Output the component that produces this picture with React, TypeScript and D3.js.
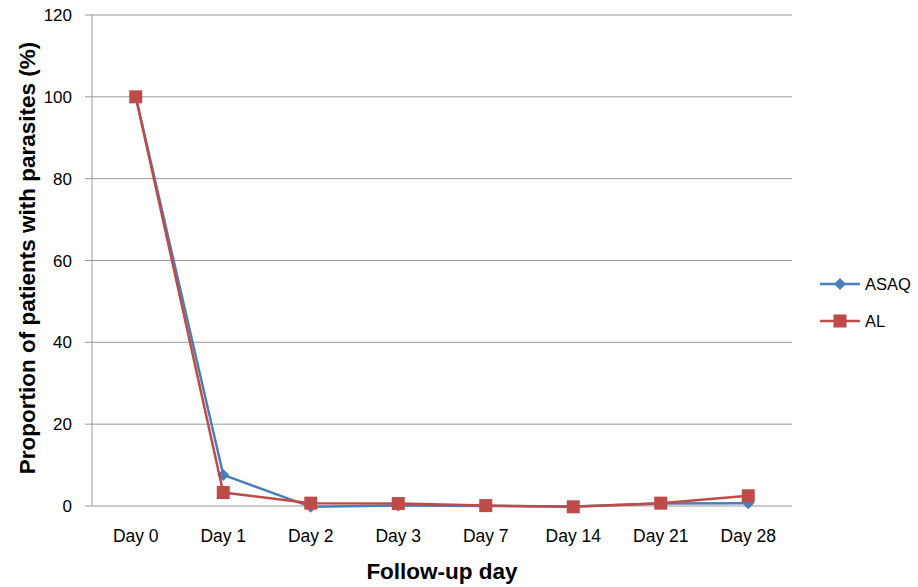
import React from 'react';
import * as d3 from 'd3';

const days = ['Day 0', 'Day 1', 'Day 2', 'Day 3', 'Day 7', 'Day 14', 'Day 21', 'Day 28'];
const asaq = [100, 7.6, -0.2, 0.1, 0, -0.1, 0.6, 0.7];
const al = [100, 3.3, 0.7, 0.6, 0.1, -0.2, 0.7, 2.5];
const yTicks = [0, 20, 40, 60, 80, 100, 120];

const W = 918, H = 587;
const left = 92, right = 792, top = 15, bottom = 506;
const font = 'Liberation Sans, Arial, sans-serif';
const blue = '#4A7EBB';
const red = '#BE4B48';

const App = () => {
  const x = d3.scaleBand().domain(days).range([left, right]);
  const y = d3.scaleLinear().domain([0, 120]).range([bottom, top]);
  const cx = (d: string) => (x(d) as number) + x.bandwidth() / 2;

  const line = d3.line<number>()
    .x((_, i) => cx(days[i]))
    .y(v => y(v));

  const diamond = (px: number, py: number, r = 6) =>
    `M${px},${py - r}L${px + r},${py}L${px},${py + r}L${px - r},${py}Z`;

  return (
    <svg width={W} height={H} style={{ display: 'block', position: 'absolute', left: 0, top: 0 }}>
      <rect width={W} height={H} fill="#fff" />
      {yTicks.map(t => (
        <g key={t}>
          <line x1={left - 7} x2={right} y1={y(t)} y2={y(t)} stroke="#999" strokeWidth={1} />
          <text x={72} y={y(t) + 6} textAnchor="end" fontFamily={font} fontSize={17} fill="#000">{t}</text>
        </g>
      ))}
      <line x1={left} x2={left} y1={top} y2={bottom} stroke="#999" strokeWidth={1} />
      {days.map(d => (
        <text key={d} x={cx(d)} y={bottom + 36} textAnchor="middle" fontFamily={font} fontSize={17.5} fill="#000">{d}</text>
      ))}

      <path d={line(asaq) || ''} fill="none" stroke={blue} strokeWidth={2.5} />
      {asaq.map((v, i) => (
        <path key={i} d={diamond(cx(days[i]), y(v))} fill={blue} />
      ))}
      <path d={line(al) || ''} fill="none" stroke={red} strokeWidth={2.5} />
      {al.map((v, i) => (
        <rect key={i} x={cx(days[i]) - 6.5} y={y(v) - 6.5} width={13} height={13} fill={red} />
      ))}

      <text transform={`translate(35, 258) rotate(-90)`} textAnchor="middle"
        fontFamily={font} fontSize={22.5} fontWeight="bold" fill="#000">Proportion of patients with parasites (%)</text>
      <text x={442} y={579} textAnchor="middle" fontFamily={font} fontSize={22.5}
        fontWeight="bold" fill="#000">Follow-up day</text>

      <g>
        <line x1={820} x2={860} y1={284} y2={284} stroke={blue} strokeWidth={2.5} />
        <path d={diamond(840, 284, 6)} fill={blue} />
        <text x={865} y={290} fontFamily={font} fontSize={16.5} fill="#000">ASAQ</text>
        <line x1={820} x2={860} y1={321} y2={321} stroke={red} strokeWidth={2.5} />
        <rect x={833.5} y={314.5} width={13} height={13} fill={red} />
        <text x={865} y={327} fontFamily={font} fontSize={16.5} fill="#000">AL</text>
      </g>
    </svg>
  );
};

export default App;
